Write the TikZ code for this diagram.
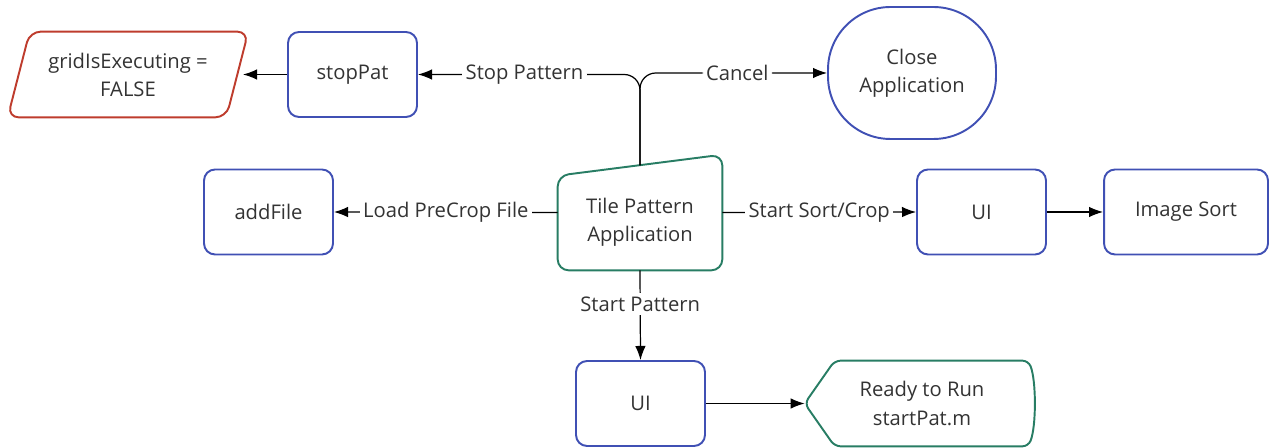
\documentclass[tikz,border=0pt]{standalone}
\usepackage{fontspec}
\setmainfont{Open Sans}
\usetikzlibrary{arrows.meta,calc}
\definecolor{blueC}{RGB}{64,80,180}
\definecolor{greenC}{RGB}{40,125,100}
\definecolor{redC}{RGB}{190,60,45}
\definecolor{txtC}{RGB}{51,51,51}
\begin{document}
\begin{tikzpicture}[x=0.02cm,y=-0.02cm,
  every node/.style={font=\fontsize{11.5}{16}\selectfont, text=txtC, align=center},
  box/.style={draw=blueC, line width=1.1pt, rounded corners=0.22cm, minimum width=2.58cm, minimum height=1.7cm, fill=white},
  ghost/.style={minimum width=#1, minimum height=1.7cm, inner sep=0pt},
  conn/.style={line width=0.7pt, -{Latex[length=8pt,width=6pt]}},
  lbl/.style={fill=white, inner sep=2pt}]
\path[use as bounding box] (0,0) rectangle (1270,448);

% nodes
\node[ghost=4.8cm] (grid) at (128,74.5) {gridIsExecuting =\\FALSE};
\draw[redC, line width=1.1pt, rounded corners=0.22cm]
  ($(grid.north)$) -- (grid.north east) -- ($(grid.south east)+(-22,0)$) -- (grid.south west) -- ($(grid.north west)+(22,0)$) -- (grid.north);
\coordinate (gridR) at (243,74.5);

\node[box] (stop) at (352.5,74.5) {stopPat};
\node[box] (add) at (268.5,212) {addFile};
\node[box] (ui1) at (981.5,212) {UI};
\node[box, minimum width=3.28cm] (sort) at (1186,212) {Image Sort};
\node[box] (ui2) at (640.5,403.5) {UI};

\node[draw=blueC, line width=1.1pt, rounded corners=1.25cm, minimum width=3.36cm, minimum height=2.64cm] (close) at (912,73) {Close\\Application};

% Tile Pattern Application (manual input)
\node[minimum width=3.28cm, minimum height=2.3cm, inner sep=0pt] (tile) at (640,212.5) {};
\node at (640,222) (tiletext) {Tile Pattern\\Application};
\draw[greenC, line width=1.1pt, rounded corners=0.22cm]
  ($(tile.south)$) -- (tile.south west) -- ($(tile.north west)+(0,21)$) -- (tile.north east) -- (tile.south east) -- (tile.south);
\coordinate (tileTop) at (640,165.5);

% Ready to Run (display)
\node[minimum width=4.58cm, minimum height=1.7cm, inner sep=0pt] (ready) at (919.5,403.5) {};
\node at (922,403.5) (readytext) {Ready to Run\\startPat.m};
\draw[greenC, line width=1.1pt, rounded corners=0.12cm]
  (ready.west) -- ($(ready.north west)+(30,0)$) -- ($(ready.north east)+(-6,0)$)
  .. controls ($(ready.north east)+(2,20)$) and ($(ready.south east)+(2,-20)$) .. ($(ready.south east)+(-6,0)$)
  -- ($(ready.south west)+(30,0)$) -- cycle;

% connectors
\draw[conn] (stop.west) -- (gridR);
\draw[conn, rounded corners=9pt] (tileTop) |- node[lbl, pos=0.76] {Stop Pattern} (stop.east);
\draw[conn, rounded corners=9pt] (tileTop) |- node[lbl, pos=0.76] {Cancel} (close.west);
\draw[conn] (tile.west) -- node[lbl] {Load PreCrop File} (add.east);
\draw[conn] (tile.east) -- node[lbl] {Start Sort/Crop} (ui1.west);
\draw[conn] (ui1.east) -- (sort.west);
\draw[conn] (tile.south) -- node[lbl, pos=0.38] {Start Pattern} (ui2.north);
\draw[conn] (ui2.east) -- (ready.west);
\end{tikzpicture}
\end{document}
